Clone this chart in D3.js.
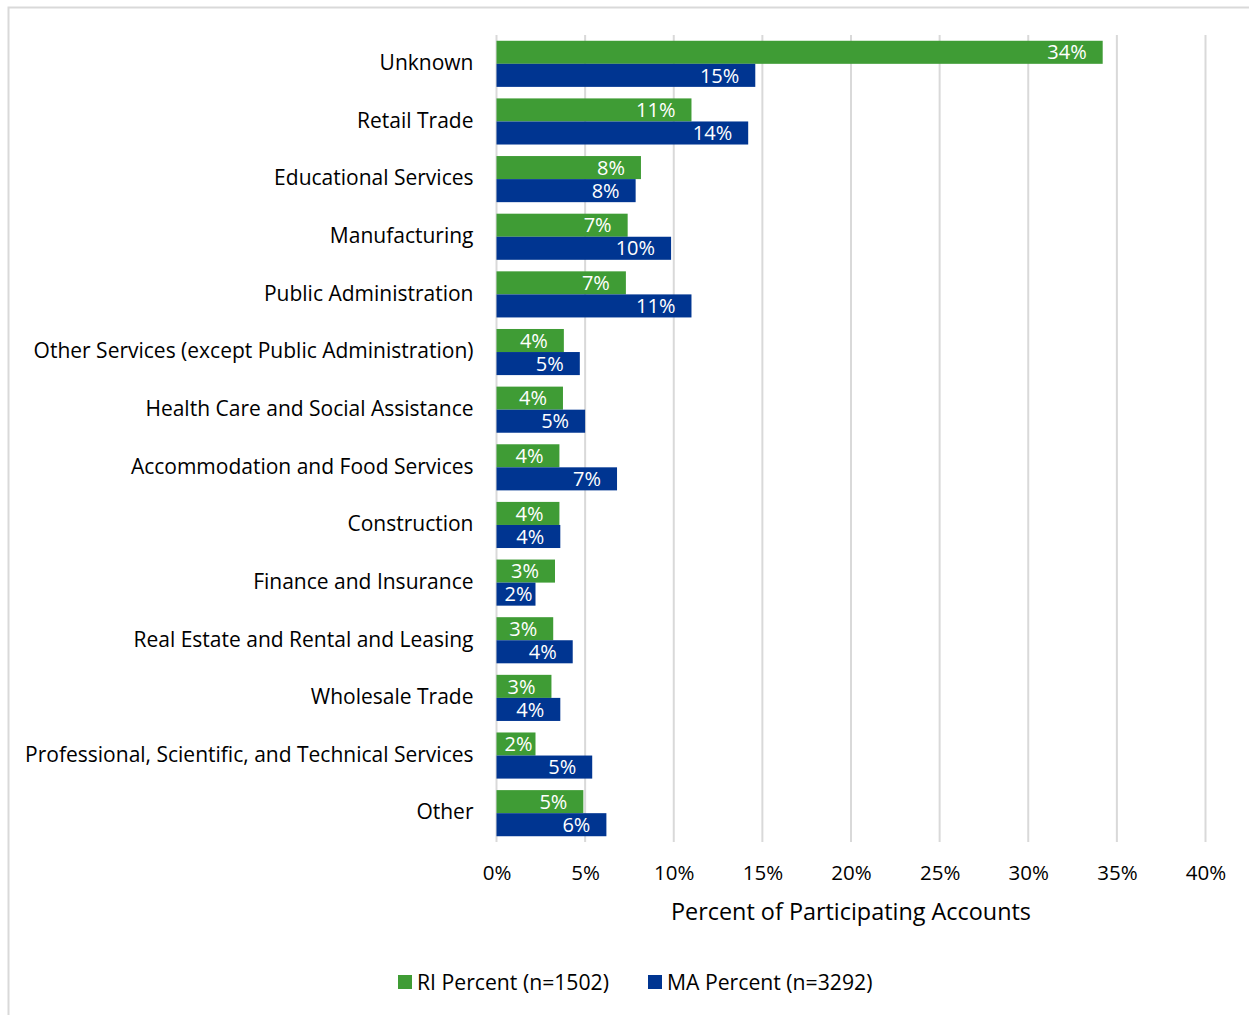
<!DOCTYPE html>
<html lang="en">
<head>
<meta charset="utf-8">
<title>Industry of participating accounts</title>
<script src="https://d3js.org/d3.v7.min.js"></script>
<style>
  body { margin: 0; background: #fff; }
  text { font-family: "Open Sans", Lato, sans-serif; }
</style>
</head>
<body>
<script>
// categories top to bottom
var industries = ["Unknown", "Retail Trade", "Educational Services", "Manufacturing",
  "Public Administration", "Other Services (except Public Administration)",
  "Health Care and Social Assistance", "Accommodation and Food Services",
  "Construction", "Finance and Insurance", "Real Estate and Rental and Leasing",
  "Wholesale Trade", "Professional, Scientific, and Technical Services", "Other"];

// percent values
var riPercent = [34.2, 11.0, 8.15, 7.4, 7.3, 3.8, 3.75, 3.55, 3.55, 3.3, 3.2, 3.1, 2.2, 4.9];
var maPercent = [14.6, 14.2, 7.85, 9.85, 11.0, 4.7, 5.0, 6.8, 3.6, 2.2, 4.3, 3.6, 5.4, 6.2];

var seriesNames = ["RI Percent (n=1502)", "MA Percent (n=3292)"];
var xTicks = [0, 5, 10, 15, 20, 25, 30, 35, 40];

var colors = ["#3f9c35", "#003591"];

var W = 1249, H = 1015;
var plotL = 496.5, plotR = 1205.5, plotT = 35, plotB = 842;

var svg = d3.select("body").append("svg")
  .attr("width", W).attr("height", H);

// chart frame (only top and left edges visible in the crop)
svg.append("path")
  .attr("d", "M8.5," + H + " V7.5 H" + W)
  .attr("fill", "none").attr("stroke", "#d9d9d9").attr("stroke-width", 2);

var x = d3.scaleLinear().domain([0, 40]).range([plotL, plotR]);
var y = d3.scaleBand().domain(industries).range([plotT, plotB])
  .paddingInner(0.2).paddingOuter(0.1);
var sub = d3.scaleBand().domain([0, 1]).range([0, y.bandwidth()]);

// vertical gridlines
svg.append("g").selectAll("line").data(xTicks).join("line")
  .attr("x1", d => x(d)).attr("x2", d => x(d))
  .attr("y1", plotT).attr("y2", plotB)
  .attr("stroke", "#d9d9d9").attr("stroke-width", 2);

// x axis tick labels
var xAxis = d3.axisBottom(x).tickValues(xTicks).tickSize(0).tickPadding(0)
  .tickFormat(d => d + "%");
var xg = svg.append("g").attr("transform", "translate(0,865)").call(xAxis);
xg.select(".domain").remove();
xg.selectAll("text").attr("font-size", 20.5).attr("fill", "#000")
  .attr("font-family", "'Open Sans', sans-serif").attr("dy", "0.71em");

// category labels
var yAxis = d3.axisLeft(y).tickSize(0).tickPadding(23);
var yg = svg.append("g").attr("transform", "translate(" + plotL + ",0)").call(yAxis);
yg.select(".domain").remove();
yg.selectAll("text").attr("font-size", 21).attr("fill", "#000")
  .attr("font-family", "'Open Sans', sans-serif").attr("dy", "0.3em");

// bars
var rows = industries.map(function (name, i) {
  return { name: name, vals: [riPercent[i], maPercent[i]] };
});

var groups = svg.append("g").selectAll("g").data(rows).join("g")
  .attr("transform", d => "translate(0," + y(d.name) + ")");

var cells = groups.selectAll("g").data(d => d.vals.map((v, k) => ({ v: v, k: k })))
  .join("g");

cells.append("rect")
  .attr("x", x(0))
  .attr("y", d => sub(d.k))
  .attr("width", d => x(d.v) - x(0))
  .attr("height", sub.bandwidth())
  .attr("fill", d => colors[d.k]);

cells.append("text")
  .attr("y", d => sub(d.k) + sub.bandwidth() / 2)
  .attr("dy", "0.36em")
  .attr("text-anchor", "end")
  .attr("font-size", 20)
  .attr("fill", "#fff")
  .text(d => Math.round(d.v) + "%")
  .attr("x", function (d) {
    var w = this.getComputedTextLength();
    return Math.max(x(d.v) - 16, x(0) + 8 + w);
  });

// axis title
svg.append("text")
  .attr("x", (plotL + plotR) / 2).attr("y", 920)
  .attr("text-anchor", "middle")
  .attr("font-size", 23.4)
  .text("Percent of Participating Accounts");

// legend
var legend = svg.append("g").attr("transform", "translate(0,982)");
var legX = [398, 648];
var li = legend.selectAll("g").data(seriesNames).join("g")
  .attr("transform", (d, i) => "translate(" + legX[i] + ",0)");
li.append("rect").attr("x", 0).attr("y", -7).attr("width", 14).attr("height", 14)
  .attr("fill", (d, i) => colors[i]);
li.append("text").attr("x", 19).attr("dy", "0.36em")
  .attr("font-size", 21.2).text(d => d);
</script>
</body>
</html>
